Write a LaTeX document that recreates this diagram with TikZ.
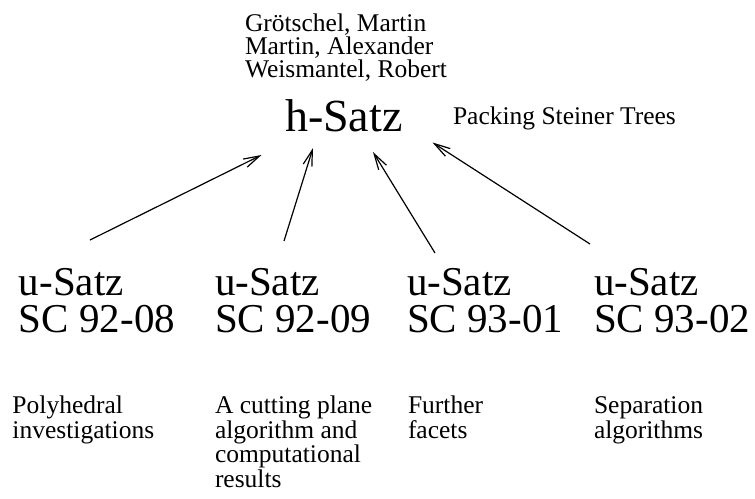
\documentclass[tikz,border=0pt]{standalone}
\usepackage{fontspec}
\setmainfont{Liberation Serif}
\usetikzlibrary{arrows.meta}
\begin{document}
\begin{tikzpicture}[x=1pt,y=-1pt,
  txt/.style={inner sep=0pt,outer sep=0pt,anchor=base west,align=left},
  small/.style={txt,font=\fontsize{25.5}{23}\selectfont},
  desc/.style={txt,font=\fontsize{25.5}{24.5}\selectfont},
  big/.style={txt,font=\fontsize{46}{46}\selectfont},
  mid/.style={txt,font=\fontsize{41}{37}\selectfont},
  arr/.style={line width=1.2pt,-{Straight Barb[length=16pt,width=9pt,line width=1.2pt]}}]
\useasboundingbox (0,0) rectangle (755,498);
\node[small] (authors) at (245,77.7) {Grötschel, Martin\\Martin, Alexander\\Weismantel, Robert};
\node[big] (h) at (285,131.7) {h-Satz};
\node[small] (title) at (453,124) {Packing Steiner Trees};
\node[mid] (u1) at (19,332) {u-Satz\\SC 92-08};
\node[mid] (u2) at (215,332) {u-Satz\\SC 92-09};
\node[mid] (u3) at (407,332) {u-Satz\\SC 93-01};
\node[mid] (u4) at (594,332) {u-Satz\\SC 93-02};
\node[desc] (d1) at (12.5,438.3) {Polyhedral\\investigations};
\node[desc] (d2) at (215,487) {A cutting plane\\algorithm and\\computational\\results};
\node[desc] (d3) at (408,438.3) {Further\\facets};
\node[desc] (d4) at (594,438.3) {Separation\\algorithms};
\coordinate (s1) at (90,240);
\coordinate (s2) at (284,241);
\coordinate (s3) at (435,253);
\coordinate (s4) at (590,244);
\coordinate (t1) at (261.5,155);
\coordinate (t2) at (313,148);
\coordinate (t3) at (373,152);
\coordinate (t4) at (432.5,142.5);
\draw[arr] (s1) -- (t1);
\draw[arr] (s2) -- (t2);
\draw[arr] (s3) -- (t3);
\draw[arr] (s4) -- (t4);
\end{tikzpicture}
\end{document}
